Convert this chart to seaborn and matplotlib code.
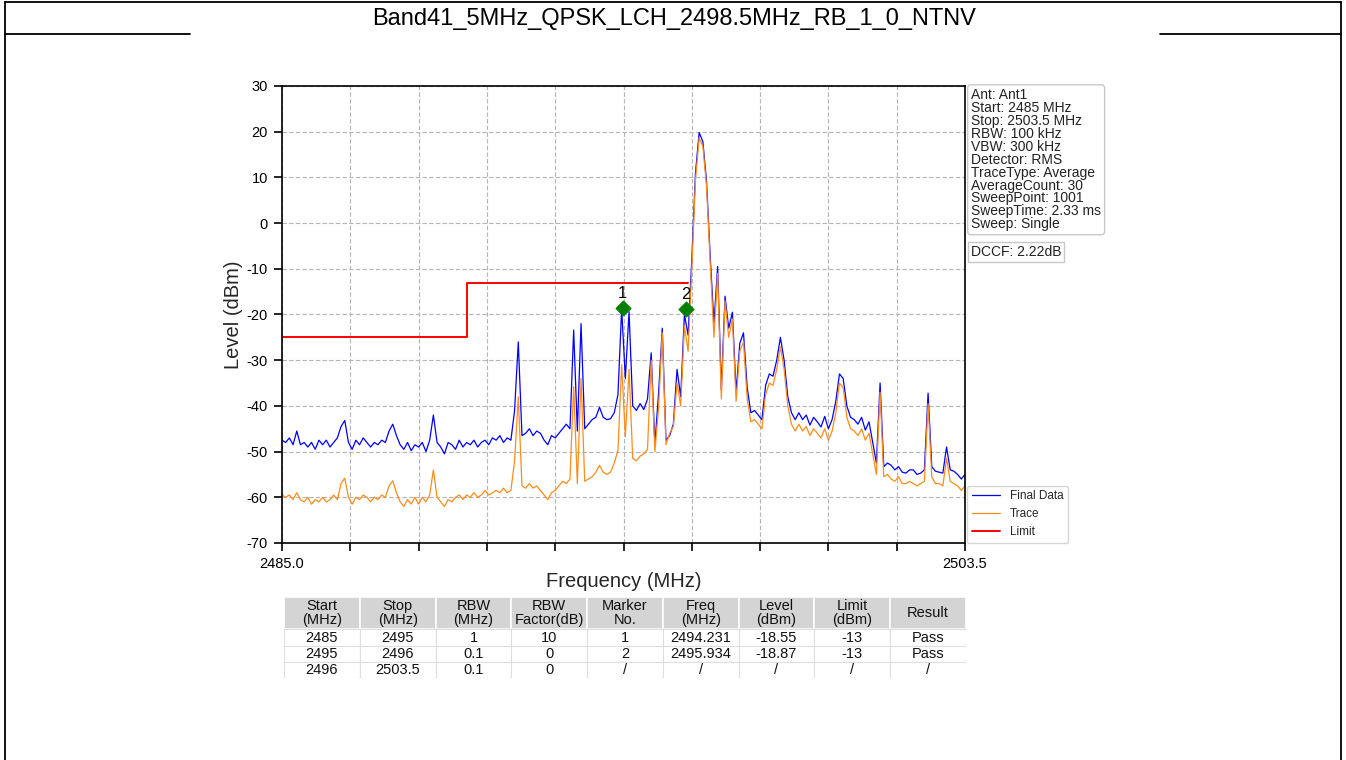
import numpy as np
import pandas as pd
import matplotlib
matplotlib.use("Agg")
import matplotlib.pyplot as plt
from matplotlib.lines import Line2D
from matplotlib.patches import Rectangle
import seaborn as sns

# ---------------- data ----------------
title = "Band41_5MHz_QPSK_LCH_2498.5MHz_RB_1_0_NTNV"

freq_start, freq_stop, freq_step = 2485.0, 2503.5, 0.1

final_data = [
    -47.5, -48, -47, -48.5, -45.5, -48.5, -48, -49, -48, -49.5,
    -47.5, -48.5, -47.5, -49, -48, -47, -44.5, -43.2, -48, -49.5,
    -47.5, -48.5, -47, -48, -49, -48, -48.5, -47.5, -48, -45.5,
    -44, -46.5, -48.5, -49.5, -48, -49.8, -48.5, -49, -48, -50,
    -47.5, -42, -48, -49, -50.5, -48, -48.5, -49.5, -47.5, -49,
    -48, -48.5, -47.5, -49, -48, -47.5, -48.5, -47, -47.5, -46.5,
    -48, -47, -47.5, -41, -26, -46.5, -46, -45, -46.5, -45.5,
    -46, -47.5, -48.5, -46.5, -47, -46, -45, -44, -45, -23.4,
    -45.5, -22, -45, -44, -43, -42.5, -40.3, -42.5, -43, -42.8,
    -41.5, -37.5, -18.8, -34, -19.4, -40, -41, -39.5, -40.8, -38.5,
    -28.4, -48.5, -37.2, -23, -47.5, -46.5, -44, -32, -38, -20,
    -24.5, -8, 11, 19.8, 17.8, 9, -7.5, -22, -9.5, -36.5,
    -16, -23, -19.5, -37, -26.3, -24, -36, -41.5, -41, -42,
    -43, -35.5, -33, -33.5, -30, -25, -30, -38, -41.5, -43,
    -41.5, -43, -42, -44.2, -42.5, -43.5, -44.6, -42.3, -45, -43,
    -39, -33, -34, -40, -42.5, -43, -44, -42.5, -45.3, -43.5,
    -48, -52.5, -35, -53.3, -52.5, -53, -54, -53.3, -54.5, -54.7,
    -54, -54, -55, -54.7, -54, -37.2, -53.3, -54.3, -54.5, -54.7,
    -49, -54, -54.3, -55, -56, -55,
]

trace = [
    -59.5, -60, -59.5, -60.5, -59, -60.5, -61, -60, -61.5, -60.5,
    -61, -60, -61, -60.5, -59.5, -60.5, -57, -55.8, -60, -61.5,
    -60, -60.5, -59.5, -60, -61, -60, -60.5, -59.5, -60, -57.5,
    -56.4, -59, -61, -62, -60.5, -61.5, -60, -61.5, -60, -61,
    -59.5, -54, -60, -61, -62, -60.5, -61, -60, -59.5, -60.5,
    -59.5, -60, -59, -60, -59.5, -58.5, -59.5, -59, -58.5, -59,
    -58, -59, -58.5, -52, -38, -57.5, -58, -57, -58, -57.5,
    -58.5, -59.5, -60.5, -59, -58.5, -57.5, -56.5, -57, -56, -35.8,
    -57, -34, -56.5, -56, -55.5, -54.5, -53, -54.5, -55, -54.5,
    -52.5, -49.7, -31, -46.7, -32, -51.5, -52, -51, -50.5, -49.5,
    -30, -50, -40.5, -24, -48.5, -46, -44.5, -35, -40, -22.5,
    -28, -10, 9.5, 18.6, 16.8, 8, -9, -25, -11, -38.5,
    -17, -25, -21, -39, -28, -26, -38.5, -43.5, -43, -44,
    -45, -37.5, -35, -35.5, -32, -27, -32, -40, -44, -45.5,
    -44, -45.5, -44.5, -46.5, -45, -46, -47, -45, -47.5, -45.5,
    -41.5, -35, -36, -42.5, -45, -45.5, -46.5, -45, -47.5, -46,
    -50.5, -55, -37, -55.5, -55, -56, -56.5, -55.5, -57, -57,
    -56.5, -57, -57.5, -57, -56.5, -39.5, -55.5, -57, -57, -57.5,
    -51.5, -56.5, -57, -57.5, -58.5, -57.5,
]

limit_freq = [2485.0, 2490.0, 2490.0, 2496.0]
limit_level = [-25, -25, -13, -13]

marker_no = [1, 2]
marker_freq = [2494.231, 2495.934]
marker_level = [-18.55, -18.87]

info_lines = [
    "Ant: Ant1", "Start: 2485 MHz", "Stop: 2503.5 MHz", "RBW: 100 kHz",
    "VBW: 300 kHz", "Detector: RMS", "TraceType: Average", "AverageCount: 30",
    "SweepPoint: 1001", "SweepTime: 2.33 ms", "Sweep: Single",
]
dccf_text = "DCCF: 2.22dB"

table_header = ["Start\n(MHz)", "Stop\n(MHz)", "RBW\n(MHz)", "RBW\nFactor(dB)",
                "Marker\nNo.", "Freq\n(MHz)", "Level\n(dBm)", "Limit\n(dBm)", "Result"]
seg_start = ["2485", "2495", "2496"]
seg_stop = ["2495", "2496", "2503.5"]
seg_rbw = ["1", "0.1", "0.1"]
seg_rbw_factor = ["10", "0", "0"]
seg_limit = [-13, -13, None]
seg_result = ["Pass", "Pass", "/"]

# ---------------- style ----------------
sns.set_theme(style="ticks")
plt.rcParams['font.family'] = ['Liberation Sans', 'DejaVu Sans']
plt.rcParams['axes.edgecolor'] = 'black'
plt.rcParams['axes.unicode_minus'] = False

W, H = 1346, 760
fig = plt.figure(figsize=(W / 100, H / 100), dpi=100)
fig.patch.set_facecolor('white')


def fx(px):
    return px / W


def fy(py):
    return 1 - py / H


# page frame and title row
frame_kw = dict(color='black', lw=1.3, transform=fig.transFigure)
fig.add_artist(Line2D([fx(5), fx(1341)], [fy(2), fy(2)], **frame_kw))
fig.add_artist(Line2D([fx(5), fx(5)], [fy(2), fy(760)], **frame_kw))
fig.add_artist(Line2D([fx(1341), fx(1341)], [fy(2), fy(760)], **frame_kw))
fig.add_artist(Line2D([fx(5), fx(190)], [fy(34), fy(34)], **frame_kw))
fig.add_artist(Line2D([fx(1160), fx(1341)], [fy(34), fy(34)], **frame_kw))
fig.text(fx(674), fy(19), title, ha='center', va='center', fontsize=17, color='black')

# ---------------- spectrum plot ----------------
ax = fig.add_axes([fx(282), fy(543), fx(965) - fx(282), fy(86) - fy(543)])

n_pts = len(final_data)
freq = np.round(freq_start + freq_step * np.arange(n_pts), 1)
df = pd.DataFrame({"freq": freq, "final": final_data, "trace": trace})

sns.lineplot(data=df, x="freq", y="final", ax=ax, color='#0000ff', lw=0.9,
             estimator=None, label="Final Data")
sns.lineplot(data=df, x="freq", y="trace", ax=ax, color='#ff8c1a', lw=0.9,
             estimator=None, label="Trace")
sns.lineplot(x=limit_freq, y=limit_level, ax=ax, color='#ff0000', lw=1.4,
             estimator=None, sort=False, label="Limit")

sns.scatterplot(x=marker_freq, y=marker_level, ax=ax, marker='D', s=60,
                color='#008000', edgecolor='#008000', legend=False, zorder=5)
for n, f, lv in zip(marker_no, marker_freq, marker_level):
    ax.annotate(str(n), (f, lv), xytext=(0, 5), textcoords='offset points',
                ha='center', va='bottom', fontsize=12, color='black', zorder=6)

ax.set_xlim(freq_start, freq_stop)
ax.set_ylim(-70, 30)
xticks = np.linspace(freq_start, freq_stop, 11)
ax.set_xticks(xticks)
ax.set_xticklabels([f"{freq_start:.1f}"] + [""] * 9 + [f"{freq_stop:.1f}"])
ax.set_yticks(np.arange(-70, 31, 10))
ax.tick_params(direction='out', length=6, width=1.2, labelsize=10.5, colors='black', pad=4)
ax.grid(True, ls=(0, (4, 2)), color='#b5b5b5', lw=0.8)
for sp in ax.spines.values():
    sp.set_visible(True)
    sp.set_color('black')
    sp.set_linewidth(1.2)
ax.set_xlabel("Frequency (MHz)", fontsize=14.5, labelpad=1)
ax.set_ylabel("Level (dBm)", fontsize=14.5, labelpad=3)

ax.legend(loc='lower left', bbox_to_anchor=(1.003, 0.0), fontsize=8.5, frameon=True,
          edgecolor='#cccccc', fancybox=True, borderaxespad=0, handlelength=2.4)

ax.text(1.009, 0.995, "\n".join(info_lines), transform=ax.transAxes, va='top', ha='left',
        fontsize=10, linespacing=0.9, color='#222222',
        bbox=dict(boxstyle='round,pad=0.25', fc='white', ec='#c8c8c8', lw=1))
ax.text(1.009, 0.652, dccf_text, transform=ax.transAxes, va='top', ha='left',
        fontsize=10, color='#222222',
        bbox=dict(boxstyle='square,pad=0.2', fc='white', ec='#c8c8c8', lw=1))

# ---------------- result table ----------------
tab = fig.add_axes([fx(284), fy(678), fx(966) - fx(284), fy(597) - fy(678)])
tab.set_xlim(0, 9)
tab.set_ylim(5, 0)
tab.axis('off')

rows = []
for r in range(3):
    if r < len(marker_no):
        m_no, m_f, m_lv = str(marker_no[r]), f"{marker_freq[r]:.3f}", f"{marker_level[r]:.2f}"
    else:
        m_no = m_f = m_lv = "/"
    lim = "/" if seg_limit[r] is None else str(seg_limit[r])
    rows.append([seg_start[r], seg_stop[r], seg_rbw[r], seg_rbw_factor[r],
                 m_no, m_f, m_lv, lim, seg_result[r]])

for j, head in enumerate(table_header):
    tab.add_patch(Rectangle((j, 0), 1, 2, fc='#d4d4d4', ec='white', lw=1.2))
    tab.text(j + 0.5, 1.0, head, ha='center', va='center', fontsize=10.5,
             linespacing=1.0, color='#111111')
for r, row in enumerate(rows):
    for j, val in enumerate(row):
        tab.add_patch(Rectangle((j, 2 + r), 1, 1, fc='white', ec='#dedede', lw=0.8))
        tab.text(j + 0.5, 2.5 + r, val, ha='center', va='center', fontsize=10.5,
                 color='#111111')

fig.savefig("out.png", dpi=100, facecolor='white')
